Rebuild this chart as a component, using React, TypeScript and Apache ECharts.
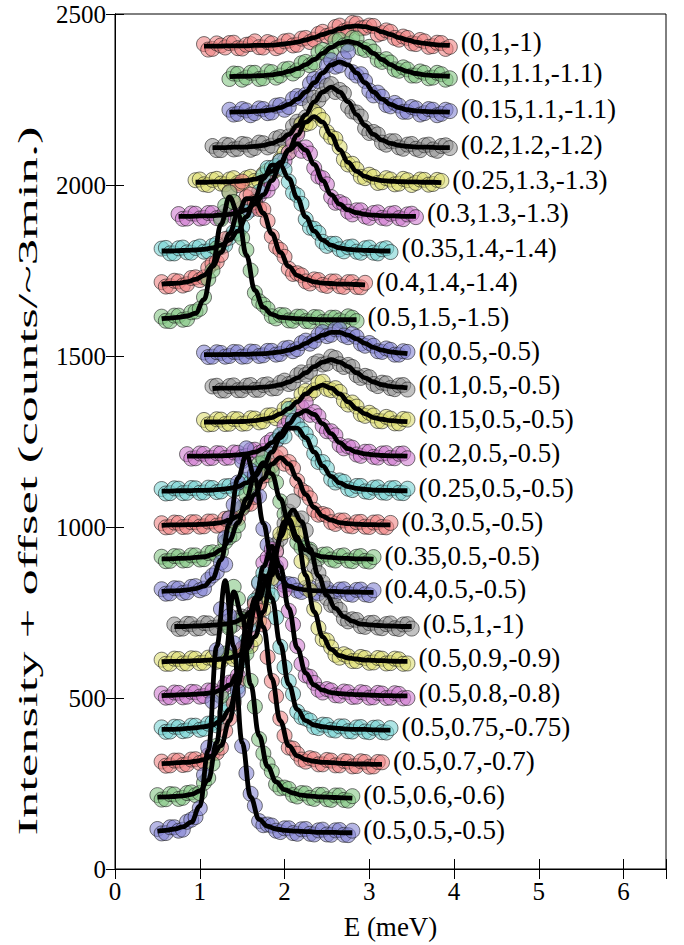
import React, { useEffect, useRef } from "react";
import * as echarts from "echarts";

// Q labels, from the top curve to the bottom curve
const labels = [
  "(0,1,-1)", "(0.1,1.1,-1.1)", "(0.15,1.1,-1.1)", "(0.2,1.2,-1.2)", "(0.25,1.3,-1.3)",
  "(0.3,1.3,-1.3)", "(0.35,1.4,-1.4)", "(0.4,1.4,-1.4)", "(0.5,1.5,-1.5)",
  "(0,0.5,-0.5)", "(0.1,0.5,-0.5)", "(0.15,0.5,-0.5)", "(0.2,0.5,-0.5)", "(0.25,0.5,-0.5)",
  "(0.3,0.5,-0.5)", "(0.35,0.5,-0.5)", "(0.4,0.5,-0.5)",
  "(0.5,1,-1)", "(0.5,0.9,-0.9)", "(0.5,0.8,-0.8)", "(0.5,0.75,-0.75)", "(0.5,0.7,-0.7)",
  "(0.5,0.6,-0.6)", "(0.5,0.5,-0.5)",
];
const offsets = [2400, 2300, 2200, 2100, 2000, 1900, 1800, 1700, 1600, 1500, 1400, 1300, 1200, 1100, 1000, 900, 800, 700, 600, 500, 400, 300, 200, 100];
// first energy of each scan (meV); points are ENERGY_STEP apart, the second scan sits half a step later
const scanStart = [1.05, 1.35, 1.35, 1.15, 0.95, 0.75, 0.55, 0.55, 0.55, 1.05, 1.15, 1.05, 0.85, 0.55, 0.55, 0.55, 0.55, 0.7, 0.55, 0.55, 0.55, 0.55, 0.5, 0.5];
const ENERGY_STEP = 0.1;
const SECOND_SCAN_SHIFT = 0.05;

// scan 1: measured intensities (counts above offset)
const obs01 = [12,-2,8,15,0,10,20,2,14,5,22,10,30,25,48,40,66,55,72,60,65,44,48,25,30,12,20,6,15,4];
const obs02 = [10,25,14,28,12,30,20,40,35,60,58,95,92,125,112,128,95,90,60,58,34,38,20,28,14,24,12];
const obs03 = [20,8,18,10,22,12,34,28,60,64,110,118,165,150,190,120,104,62,58,30,32,14,24,10,20,8,16];
const obs04 = [14,2,16,6,18,8,22,15,40,42,85,98,155,165,195,178,130,112,66,55,24,28,10,18,6,16,4,14,8];
const obs05 = [14,2,15,4,16,6,20,12,32,36,75,95,155,178,215,190,140,110,60,46,20,24,8,16,4,14,6,15,3,12];
const obs06 = [15,2,16,4,18,6,20,14,34,40,82,105,170,195,248,210,150,120,65,50,22,26,8,18,4,16,3,14,6];
const obs07 = [14,0,15,3,16,5,22,18,46,58,118,155,228,250,270,210,170,100,72,34,28,12,18,5,15,2,12,4];
const obs08 = [16,4,18,10,30,30,70,96,280,300,265,250,228,150,110,55,42,18,24,8,18,4,16,2,14];
const obs09 = [15,2,18,8,30,72,150,300,378,300,210,85,50,16,20,4,15,2,14,0,12,4,16,2];
const obs10 = [10,-2,9,0,11,-1,12,2,15,6,24,20,45,44,70,62,78,55,56,30,30,12,18,4,12];
const obs11 = [11,-1,12,0,13,1,15,5,22,18,44,45,78,75,98,76,74,44,42,18,22,6,14,2];
const obs12 = [13,1,14,2,15,3,17,9,27,25,55,58,98,100,125,100,95,58,52,25,26,9,17,3,14];
const obs13 = [13,1,14,2,15,3,17,8,26,22,55,66,110,122,165,136,95,80,40,36,12,20,5,15,2,14,1];
const obs14 = [11,-1,12,0,13,1,14,4,20,14,38,44,88,112,170,245,200,172,115,90,40,36,12,20,4,15,1,13,0,12];
const obs15 = [11,0,12,1,14,2,16,6,26,25,66,88,150,178,215,190,135,100,50,38,14,19,4,14,1,13,0,12];
const obs16 = [13,1,14,3,17,6,26,28,70,105,195,245,300,262,175,120,55,38,14,19,5,15,2,13,1,12];
const obs17 = [18,6,20,9,27,20,58,96,225,330,430,355,195,112,42,33,14,22,8,19,6,17,4,16,3,15];
const obs18 = [15,3,16,4,18,6,22,14,38,45,98,150,248,310,375,325,228,165,92,70,32,30,10,19,6,16,4,15,3];
const obs19 = [12,0,14,1,15,3,17,8,23,18,50,72,160,250,380,415,380,250,160,72,48,18,22,8,17,4,15,2,13,1];
const obs20 = [13,2,15,4,17,6,22,16,45,66,155,255,395,435,392,255,152,66,44,16,22,7,17,4,15,2,13,1,12,0];
const obs21 = [14,2,15,5,19,10,27,28,74,132,268,385,465,400,250,148,60,40,15,22,7,17,3,14,2,13,0,12];
const obs22 = [14,3,17,6,21,14,38,55,140,250,418,475,415,250,140,55,37,14,21,6,17,3,14,1,13,0,12];
const obs23 = [16,4,18,8,24,22,66,160,430,625,530,350,180,108,48,38,16,22,8,17,4,15,2,13];
const obs24 = [17,5,22,15,44,78,255,540,790,560,260,120,40,30,12,19,5,16,3,13,1,13,0,12];

// scan 2: measured intensities half a step later (counts above offset)
const scan2_01 = [-4,14,2,16,-1,12,3,18,0,20,8,28,18,42,36,62,50,74,58,66,40,52,30,34,14,24,4,16,-2];
const scan2_02 = [26,8,28,10,32,14,38,26,56,50,88,82,122,108,130,100,104,66,68,38,44,20,32,12,28,8];
const scan2_03 = [6,22,4,24,10,32,20,52,54,96,104,150,146,170,130,124,76,70,34,40,14,28,6,22,4,20];
const scan2_04 = [2,18,4,20,3,24,10,36,30,72,80,136,148,190,172,168,115,100,52,48,18,28,6,20,2,18,0,16];
const scan2_05 = [16,0,18,2,20,4,24,12,42,44,95,115,178,182,205,155,135,75,62,24,30,6,20,2,18,0,16,1,15];
const scan2_06 = [1,17,2,18,3,22,8,32,28,68,84,148,170,225,200,192,125,102,48,44,14,26,4,20,2,18,0,16];
const scan2_07 = [16,0,17,2,20,6,28,24,62,78,145,180,250,255,245,178,145,75,60,22,28,6,20,2,17,0,15];
const scan2_08 = [3,20,6,28,22,58,75,142,250,310,272,230,195,120,90,40,36,12,22,5,18,2,16,1];
const scan2_09 = [3,18,6,28,38,125,215,340,350,245,150,60,38,10,19,3,15,1,13,0,12,0,12];
const scan2_10 = [-3,11,-2,12,-2,13,0,15,4,22,14,38,36,62,58,78,60,64,36,38,14,22,4,14];
const scan2_11 = [13,-1,14,0,15,1,17,6,28,22,52,54,84,78,94,68,68,36,38,12,20,3,15];
const scan2_12 = [0,15,1,16,2,18,6,26,18,46,48,88,90,122,104,106,70,64,30,34,10,22,3,16];
const scan2_13 = [0,15,1,16,2,18,5,25,16,46,52,96,108,150,128,124,80,68,30,32,8,20,3,16,1,15];
const scan2_14 = [-2,13,-1,14,0,15,2,19,8,32,30,72,90,152,165,210,185,150,90,72,30,32,8,20,2,16,0,14,-1];
const scan2_15 = [-1,13,0,14,1,16,4,24,18,54,68,128,152,205,185,172,108,84,36,34,9,19,2,15,0,14,-1];
const scan2_16 = [0,15,2,17,5,24,18,56,78,158,210,285,262,230,138,95,40,34,8,20,2,17,0,15,-1];
const scan2_17 = [5,21,7,25,15,46,68,168,265,392,365,290,148,84,30,31,10,23,6,20,4,18,2,17,1];
const scan2_18 = [2,17,3,19,5,22,10,34,34,80,115,210,265,345,320,290,185,138,72,58,24,28,8,20,4,18,2,16];
const scan2_19 = [0,15,1,16,2,18,6,24,14,42,52,125,195,330,385,410,300,215,105,68,26,28,8,20,3,17,1,15,0];
const scan2_20 = [1,16,2,18,4,22,12,38,48,118,195,335,410,428,315,215,100,62,24,26,8,19,3,17,1,15,0,14,-1];
const scan2_21 = [1,16,3,19,7,25,20,58,95,210,315,438,415,335,190,112,44,34,12,21,5,17,2,15,0,14,-1];
const scan2_22 = [2,17,4,20,10,32,40,104,185,345,435,455,320,205,90,52,20,24,6,19,3,16,0,15,-1,13];
const scan2_23 = [3,19,5,22,16,52,108,305,505,590,430,275,138,85,36,34,12,21,5,17,2,15,0];
const scan2_24 = [4,22,12,38,52,175,390,660,640,420,180,85,28,27,8,19,3,17,1,15,0,14,-1];

// fitted curves (counts above offset), read at the scan-1 energies
const fit01 = [6,6,6,7,7,7,8,8,9,11,14,18,24,31,40,48,57,63,65,63,57,48,40,31,24,18,14,11,9,8];
const fit02 = [17,18,18,19,20,22,26,32,40,52,67,85,102,115,120,115,102,85,67,52,40,32,26,22,20,19,18];
const fit03 = [13,14,14,15,17,20,26,36,51,72,99,128,151,160,151,128,99,72,51,36,26,20,17,15,14,14,13];
const fit04 = [9,9,10,11,11,13,16,22,31,48,74,106,143,172,186,172,143,106,74,48,31,22,16,13,11,11,10,9,9];
const fit05 = [8,8,9,9,10,11,13,17,25,40,66,103,146,184,200,184,146,103,66,40,25,17,13,11,10,9,9,8,8,7];
const fit06 = [8,8,9,10,10,12,14,19,27,44,72,113,160,202,220,202,160,113,72,44,27,19,14,12,10,10,9,8,8];
const fit07 = [7,7,8,9,10,12,16,24,39,65,107,162,219,258,258,219,162,107,65,39,24,16,12,10,9,8,7,7];
const fit08 = [10,12,13,17,24,36,62,103,158,218,260,260,218,158,103,62,36,24,17,13,12,10,10,9,8];
const fit09 = [9,11,13,17,25,65,165,285,365,318,195,92,42,22,13,11,9,8,7,6,6,6,6,6];
const fit10 = [4,4,4,4,5,5,6,7,9,12,17,25,37,50,61,69,69,61,50,37,25,17,12,9,7];
const fit11 = [5,6,6,6,7,7,9,11,16,24,36,51,69,82,89,82,69,51,36,24,16,11,9,7];
const fit12 = [7,7,7,8,8,9,11,15,20,31,46,66,89,106,115,106,89,66,46,31,20,15,11,9,8];
const fit13 = [7,7,7,8,8,9,11,14,19,29,47,73,102,129,140,129,102,73,47,29,19,14,11,9,8,8,7];
const fit14 = [5,5,6,6,7,7,8,10,13,18,29,48,79,119,161,189,189,161,119,79,48,29,18,13,10,8,7,7,6,6];
const fit15 = [5,6,6,7,7,8,10,13,20,32,57,95,141,184,203,184,141,95,57,32,20,13,10,8,7,7,6,6];
const fit16 = [7,7,8,9,11,13,19,33,61,112,183,255,288,255,183,112,61,33,19,13,11,9,8,7,7,6];
const fit17 = [12,13,14,16,20,27,49,104,210,343,412,343,210,104,49,27,20,16,14,13,12,11,10,10,9,9];
const fit18 = [9,9,10,11,12,14,16,21,31,52,90,157,237,316,350,316,237,157,100,62,38,25,16,14,12,11,10,9,9];
const fit19 = [6,7,7,8,9,10,11,14,17,24,42,79,152,259,371,423,371,259,152,79,42,24,17,14,11,10,9,8,7,7];
const fit20 = [7,8,9,10,11,13,16,23,38,73,146,263,384,443,384,263,146,73,38,23,16,13,11,10,9,8,7,7,6,6];
const fit21 = [8,8,9,11,13,16,21,34,67,140,258,392,458,392,258,140,67,34,21,16,13,11,9,8,8,7,6,6];
const fit22 = [8,9,11,12,15,20,31,61,133,257,408,483,408,257,133,61,31,20,15,12,11,9,8,7,7,6,6];
const fit23 = [10,11,12,14,18,28,60,170,420,610,540,340,190,100,55,32,22,16,13,11,10,9,8,7];
const fit24 = [11,13,17,23,37,84,247,551,743,551,270,110,45,25,17,13,11,10,9,7,7,7,6,6];

const scan1 = [obs01, obs02, obs03, obs04, obs05, obs06, obs07, obs08, obs09, obs10, obs11, obs12, obs13, obs14, obs15, obs16, obs17, obs18, obs19, obs20, obs21, obs22, obs23, obs24];
const scan2 = [scan2_01, scan2_02, scan2_03, scan2_04, scan2_05, scan2_06, scan2_07, scan2_08, scan2_09, scan2_10, scan2_11, scan2_12, scan2_13, scan2_14, scan2_15, scan2_16, scan2_17, scan2_18, scan2_19, scan2_20, scan2_21, scan2_22, scan2_23, scan2_24];
const fitted = [fit01, fit02, fit03, fit04, fit05, fit06, fit07, fit08, fit09, fit10, fit11, fit12, fit13, fit14, fit15, fit16, fit17, fit18, fit19, fit20, fit21, fit22, fit23, fit24];

const xTicks = [0, 1, 2, 3, 4, 5, 6];
const yTicks = [0, 500, 1000, 1500, 2000, 2500];
const Y_TITLE = "Intensity + offset (counts/~3min.)";

const palette = [
  "rgba(240,128,128,0.72)",
  "rgba(128,196,128,0.72)",
  "rgba(128,128,210,0.72)",
  "rgba(150,150,150,0.72)",
  "rgba(220,220,110,0.72)",
  "rgba(206,120,206,0.72)",
  "rgba(116,210,210,0.72)",
];

const FONT = "Liberation Serif";

export default function App() {
  const ref = useRef<HTMLDivElement>(null);
  useEffect(() => {
    if (!ref.current) return;
    const chart = echarts.init(ref.current, undefined, { renderer: "svg" });
    const series: any[] = [];
    const r2 = (v: number) => Math.round(v * 100) / 100;
    labels.forEach((lab, i) => {
      const e1 = (j: number) => r2(scanStart[i] + j * ENERGY_STEP);
      const e2 = (j: number) => r2(scanStart[i] + SECOND_SCAN_SHIFT + j * ENERGY_STEP);
      const pts = [
        ...scan1[i].map((v, j) => [e1(j), offsets[i] + v]),
        ...scan2[i].map((v, j) => [e2(j), offsets[i] + v]),
      ].sort((a, b) => a[0] - b[0]);
      series.push({
        type: "scatter",
        name: lab + " data",
        data: pts,
        symbol: "circle",
        symbolSize: 15,
        itemStyle: { color: palette[i % palette.length], borderColor: "rgba(30,30,30,0.85)", borderWidth: 0.9 },
        silent: true,
      });
      series.push({
        type: "line",
        name: lab,
        data: fitted[i].map((v, j) => [e1(j), offsets[i] + v]),
        symbol: "none",
        showSymbol: false,
        smooth: 0.4,
        smoothMonotone: "x",
        lineStyle: { color: "#000", width: 4.8 },
        silent: true,
        endLabel: {
          show: true,
          formatter: lab,
          fontFamily: FONT,
          fontSize: 27,
          color: "#000",
          distance: 11,
          offset: [0, -3],
        },
      });
    });
    const xFmt = (v: number) => (xTicks.includes(v) ? String(v) : "");
    const yFmt = (v: number) => (yTicks.includes(v) ? String(v) : "");
    chart.setOption({
      animation: false,
      grid: { left: 115, right: 18, top: 14, bottom: 73, show: true, borderColor: "#000", borderWidth: 1 },
      graphic: [
        {
          type: "text",
          x: 28,
          y: 481,
          rotation: Math.PI / 2,
          scaleX: 1.95,
          scaleY: 1,
          silent: true,
          style: {
            text: Y_TITLE,
            fontFamily: FONT,
            fontSize: 27,
            fill: "#000",
            align: "center",
            verticalAlign: "middle",
            textAlign: "center",
            textVerticalAlign: "middle",
          },
        },
      ],
      xAxis: [
        {
          type: "value", min: 0, max: 6.5, interval: 1,
          name: "E (meV)", nameLocation: "middle", nameGap: 44,
          nameTextStyle: { fontFamily: FONT, fontSize: 27, color: "#000" },
          axisLine: { lineStyle: { color: "#000" } },
          axisTick: { inside: true, length: 10, lineStyle: { color: "#000" } },
          axisLabel: { formatter: xFmt, fontFamily: FONT, fontSize: 25, color: "#000", margin: 10 },
          splitLine: { show: false },
        },
        {
          type: "value", position: "top", min: 0, max: 6.5, interval: 1,
          axisLine: { lineStyle: { color: "#000" } },
          axisTick: { inside: true, length: 10, lineStyle: { color: "#000" } },
          axisLabel: { show: false },
          splitLine: { show: false },
        },
      ],
      yAxis: [
        {
          type: "value", min: 0, max: 2500, interval: 500,
          axisLine: { show: true, lineStyle: { color: "#000" } },
          axisTick: { show: true, inside: true, length: 9, lineStyle: { color: "#000" } },
          axisLabel: { formatter: yFmt, fontFamily: FONT, fontSize: 25, color: "#000", margin: 9 },
          splitLine: { show: false },
        },
        {
          type: "value", position: "right", min: 0, max: 2500, interval: 500,
          axisLine: { show: true, lineStyle: { color: "#000" } },
          axisTick: { show: true, inside: true, length: 9, lineStyle: { color: "#000" } },
          axisLabel: { show: false },
          splitLine: { show: false },
        },
      ],
      series,
    });
    return () => chart.dispose();
  }, []);
  return <div ref={ref} style={{ width: 684, height: 945, position: "absolute", left: 0, top: 0 }} />;
}
